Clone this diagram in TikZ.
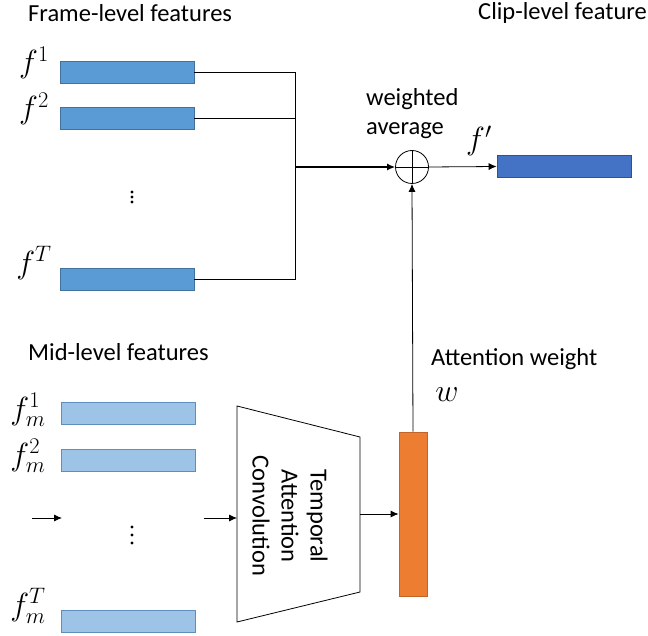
\RequirePackage{fix-cm}
\documentclass[tikz,border=0pt]{standalone}
\usepackage{fontspec}
\setmainfont{Carlito}
\usetikzlibrary{arrows.meta}
\definecolor{fblue}{HTML}{5B9BD5}
\definecolor{fblueb}{HTML}{41719C}
\definecolor{cblue}{HTML}{4472C4}
\definecolor{cblueb}{HTML}{2F528F}
\definecolor{mblue}{HTML}{9DC3E6}
\definecolor{mblueb}{HTML}{5E8EC0}
\definecolor{orng}{HTML}{ED7D31}
\definecolor{orngb}{HTML}{C0642A}
\begin{document}
\begin{tikzpicture}[x=1pt,y=-1pt,
  bar/.style={rectangle,inner sep=0pt,minimum width=134pt,minimum height=22pt,line width=0.8pt},
  fbar/.style={bar,draw=fblueb,fill=fblue},
  mbar/.style={bar,draw=mblueb,fill=mblue},
  lbl/.style={inner sep=0pt,font=\fontsize{24.5}{29}\selectfont},
  mlbl/.style={inner sep=0pt,font=\fontsize{32}{36}\selectfont},
  conn/.style={line width=0.8pt},
  arr/.style={line width=0.8pt,-{Latex[length=8pt,width=7pt]}},
  dot/.style={circle,fill,inner sep=0pt,minimum size=3.4pt}
]
\useasboundingbox (0,0) rectangle (648,636);

% titles
\node[lbl,anchor=west] (tframe) at (28,13) {Frame-level features};
\node[lbl,anchor=east] (tclip) at (647,13) {Clip-level feature};
\node[lbl,anchor=west] (tmid) at (28,352) {Mid-level features};

% frame-level bars
\node[fbar] (b1) at (127,72) {};
\node[fbar] (b2) at (127,118) {};
\node[fbar] (bT) at (127,279) {};
\node[mlbl] (l1) at (34,63) {$f^{1}$};
\node[mlbl] (l2) at (34,109) {$f^{2}$};
\node[mlbl] (lT) at (34,263) {$f^{T}$};
\node[dot] (d1a) at (132,192) {};
\node[dot] (d1b) at (132,197) {};
\node[dot] (d1c) at (132,202) {};

% junction and weighted average
\coordinate (j) at (295,167);
\draw[conn] (b1.east) -| (j);
\draw[conn] (b2.east) -| (j);
\draw[conn] (bT.east) -| (j);
\node[circle,draw,line width=0.8pt,minimum size=33pt,inner sep=0pt] (c) at (412,167) {};
\draw[line width=0.8pt] (c.north) -- (c.south) (c.west) -- (c.east);
\draw[line width=1.3pt,-{Latex[length=8pt,width=7pt]}] (j) -- (c.west);
\node[lbl,align=left,anchor=west] (twa) at (366,114) {weighted\\average};

% clip-level feature
\node[bar,draw=cblueb,fill=cblue] (clip) at (564,166.5) {};
\draw[arr] (c.east) -- (clip.west);
\node[mlbl] (lf) at (479,141) {$f'$};

% mid-level bars
\node[mbar] (m1) at (128,413) {};
\node[mbar] (m2) at (128,460) {};
\node[mbar] (mT) at (128,621) {};
\node[mlbl] (n1) at (28,410) {$f_m^{1}$};
\node[mlbl] (n2) at (28,456) {$f_m^{2}$};
\node[mlbl] (nT) at (28,606) {$f_m^{T}$};
\node[dot] (d2a) at (132,527) {};
\node[dot] (d2b) at (132,535) {};
\node[dot] (d2c) at (132,543) {};

% small arrows
\coordinate (a1s) at (32,518);
\coordinate (a1e) at (62,518);
\draw[arr] (a1s) -- (a1e);

% trapezoid
\coordinate (tl1) at (237,406);
\coordinate (tr1) at (360,437);
\coordinate (tr2) at (360,592);
\coordinate (tl2) at (237,622);
\coordinate (tlm) at (237,518);
\coordinate (trm) at (360,514);
\draw[line width=0.8pt] (tl1) -- (tr1) -- (tr2) -- (tl2) -- cycle;
\coordinate (a2s) at (204,518);
\draw[arr] (a2s) -- (tlm);
\node[lbl,rotate=-90,align=center,inner sep=0pt] (ttac) at (290,516) {Temporal\\Attention\\Convolution};

% attention weight
\node[rectangle,draw=orngb,fill=orng,line width=0.8pt,minimum width=28pt,minimum height=164pt,inner sep=0pt] (o) at (413,514) {};
\draw[arr] (trm) -- (o.west);
\draw[arr] (o.north) -- (c.south);
\node[lbl,anchor=west] (taw) at (431,359) {Attention weight};
\node[mlbl] (lw) at (447,395) {$w$};
\end{tikzpicture}
\end{document}
